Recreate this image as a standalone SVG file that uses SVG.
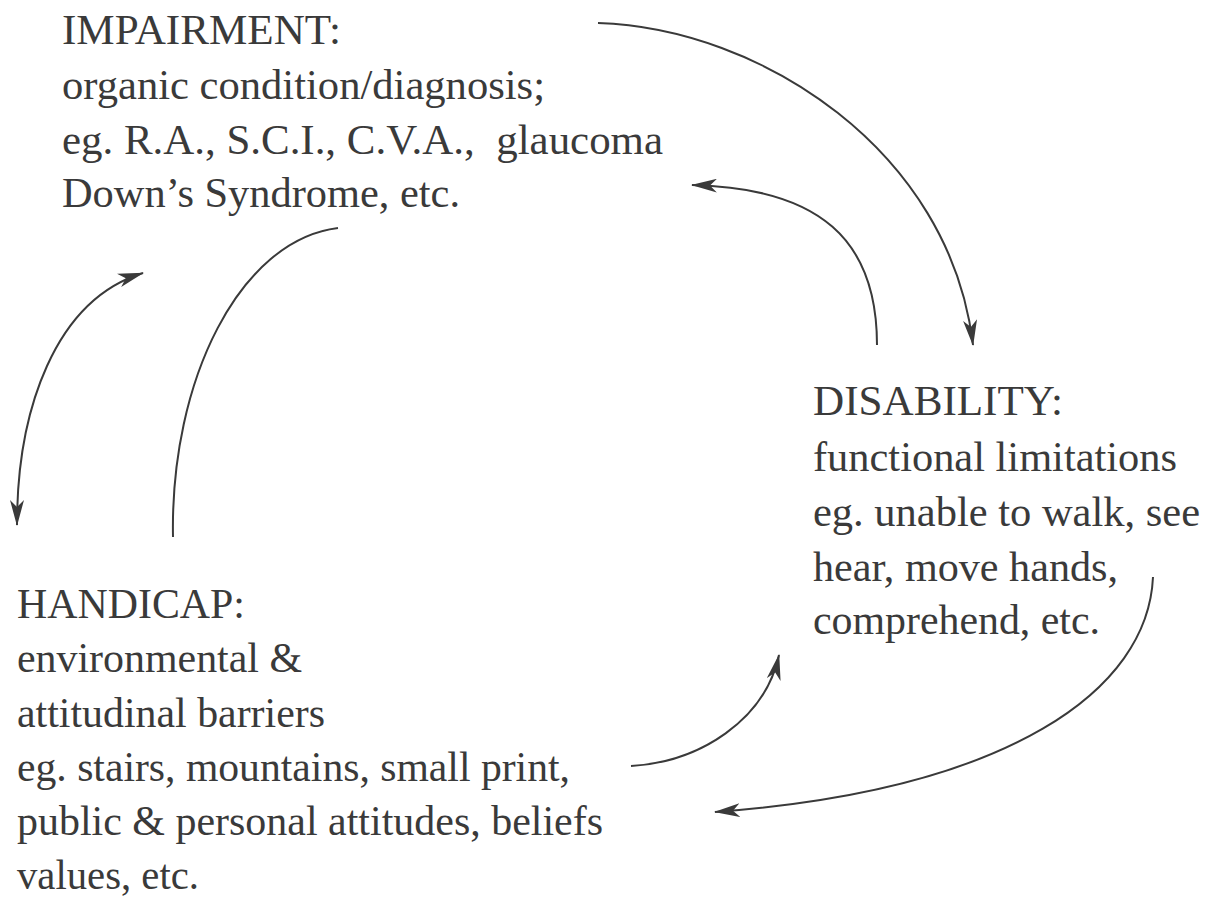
<svg xmlns="http://www.w3.org/2000/svg" width="1218" height="901" viewBox="0 0 1218 901">
<style>
  .t { font-family: "Liberation Serif", "Times New Roman", serif; font-size: 43px; fill: #3a3a3a; }
  .c { fill: none; stroke: #3a3a3a; stroke-width: 2; }
</style>
<defs>
  <marker id="ah" markerUnits="userSpaceOnUse" viewBox="0 0 26 14" refX="25" refY="7" markerWidth="26" markerHeight="14" orient="auto-start-reverse">
    <path d="M0,0 L26,7 L0,14 L7,7 z" fill="#3a3a3a"/>
  </marker>
</defs>
<rect width="1218" height="901" fill="#ffffff"/>
<g id="impairment">
  <text class="t" x="62" y="44" textLength="279" lengthAdjust="spacingAndGlyphs">IMPAIRMENT:</text>
  <text class="t" x="62" y="99" textLength="483" lengthAdjust="spacingAndGlyphs">organic condition/diagnosis;</text>
  <text class="t" x="62" y="154" textLength="601" lengthAdjust="spacingAndGlyphs" xml:space="preserve">eg. R.A., S.C.I., C.V.A.,  glaucoma</text>
  <text class="t" x="62" y="207" textLength="398" lengthAdjust="spacingAndGlyphs">Down’s Syndrome, etc.</text>
</g>
<g id="disability">
  <text class="t" x="813" y="415" textLength="250" lengthAdjust="spacingAndGlyphs">DISABILITY:</text>
  <text class="t" x="813" y="471" textLength="364" lengthAdjust="spacingAndGlyphs">functional limitations</text>
  <text class="t" x="813" y="526" textLength="387" lengthAdjust="spacingAndGlyphs">eg. unable to walk, see</text>
  <text class="t" x="813" y="581" textLength="305" lengthAdjust="spacingAndGlyphs">hear, move hands,</text>
  <text class="t" x="813" y="634" textLength="287" lengthAdjust="spacingAndGlyphs">comprehend, etc.</text>
</g>
<g id="handicap">
  <text class="t" x="17" y="618" textLength="228" lengthAdjust="spacingAndGlyphs">HANDICAP:</text>
  <text class="t" x="17" y="672" textLength="285" lengthAdjust="spacingAndGlyphs">environmental &amp;</text>
  <text class="t" x="17" y="727" textLength="308" lengthAdjust="spacingAndGlyphs">attitudinal barriers</text>
  <text class="t" x="17" y="781" textLength="553" lengthAdjust="spacingAndGlyphs">eg. stairs, mountains, small print,</text>
  <text class="t" x="17" y="835" textLength="586" lengthAdjust="spacingAndGlyphs">public &amp; personal attitudes, beliefs</text>
  <text class="t" x="17" y="889" textLength="182" lengthAdjust="spacingAndGlyphs">values, etc.</text>
</g>
<g id="connectors">
  <path class="c" d="M598,23 C760,28 950,150 973,345" marker-end="url(#ah)"/>
  <path class="c" d="M877,345 C877,240 820,188 692,185" marker-end="url(#ah)"/>
  <path class="c" d="M17,525 C17,410 55,300 143,273" marker-start="url(#ah)" marker-end="url(#ah)"/>
  <path class="c" d="M173,537 C170,380 240,240 338,228"/>
  <path class="c" d="M631,766 C700,762 765,720 779,655" marker-end="url(#ah)"/>
  <path class="c" d="M1153,577 C1148,690 1010,790 715,812" marker-end="url(#ah)"/>
</g>
</svg>
